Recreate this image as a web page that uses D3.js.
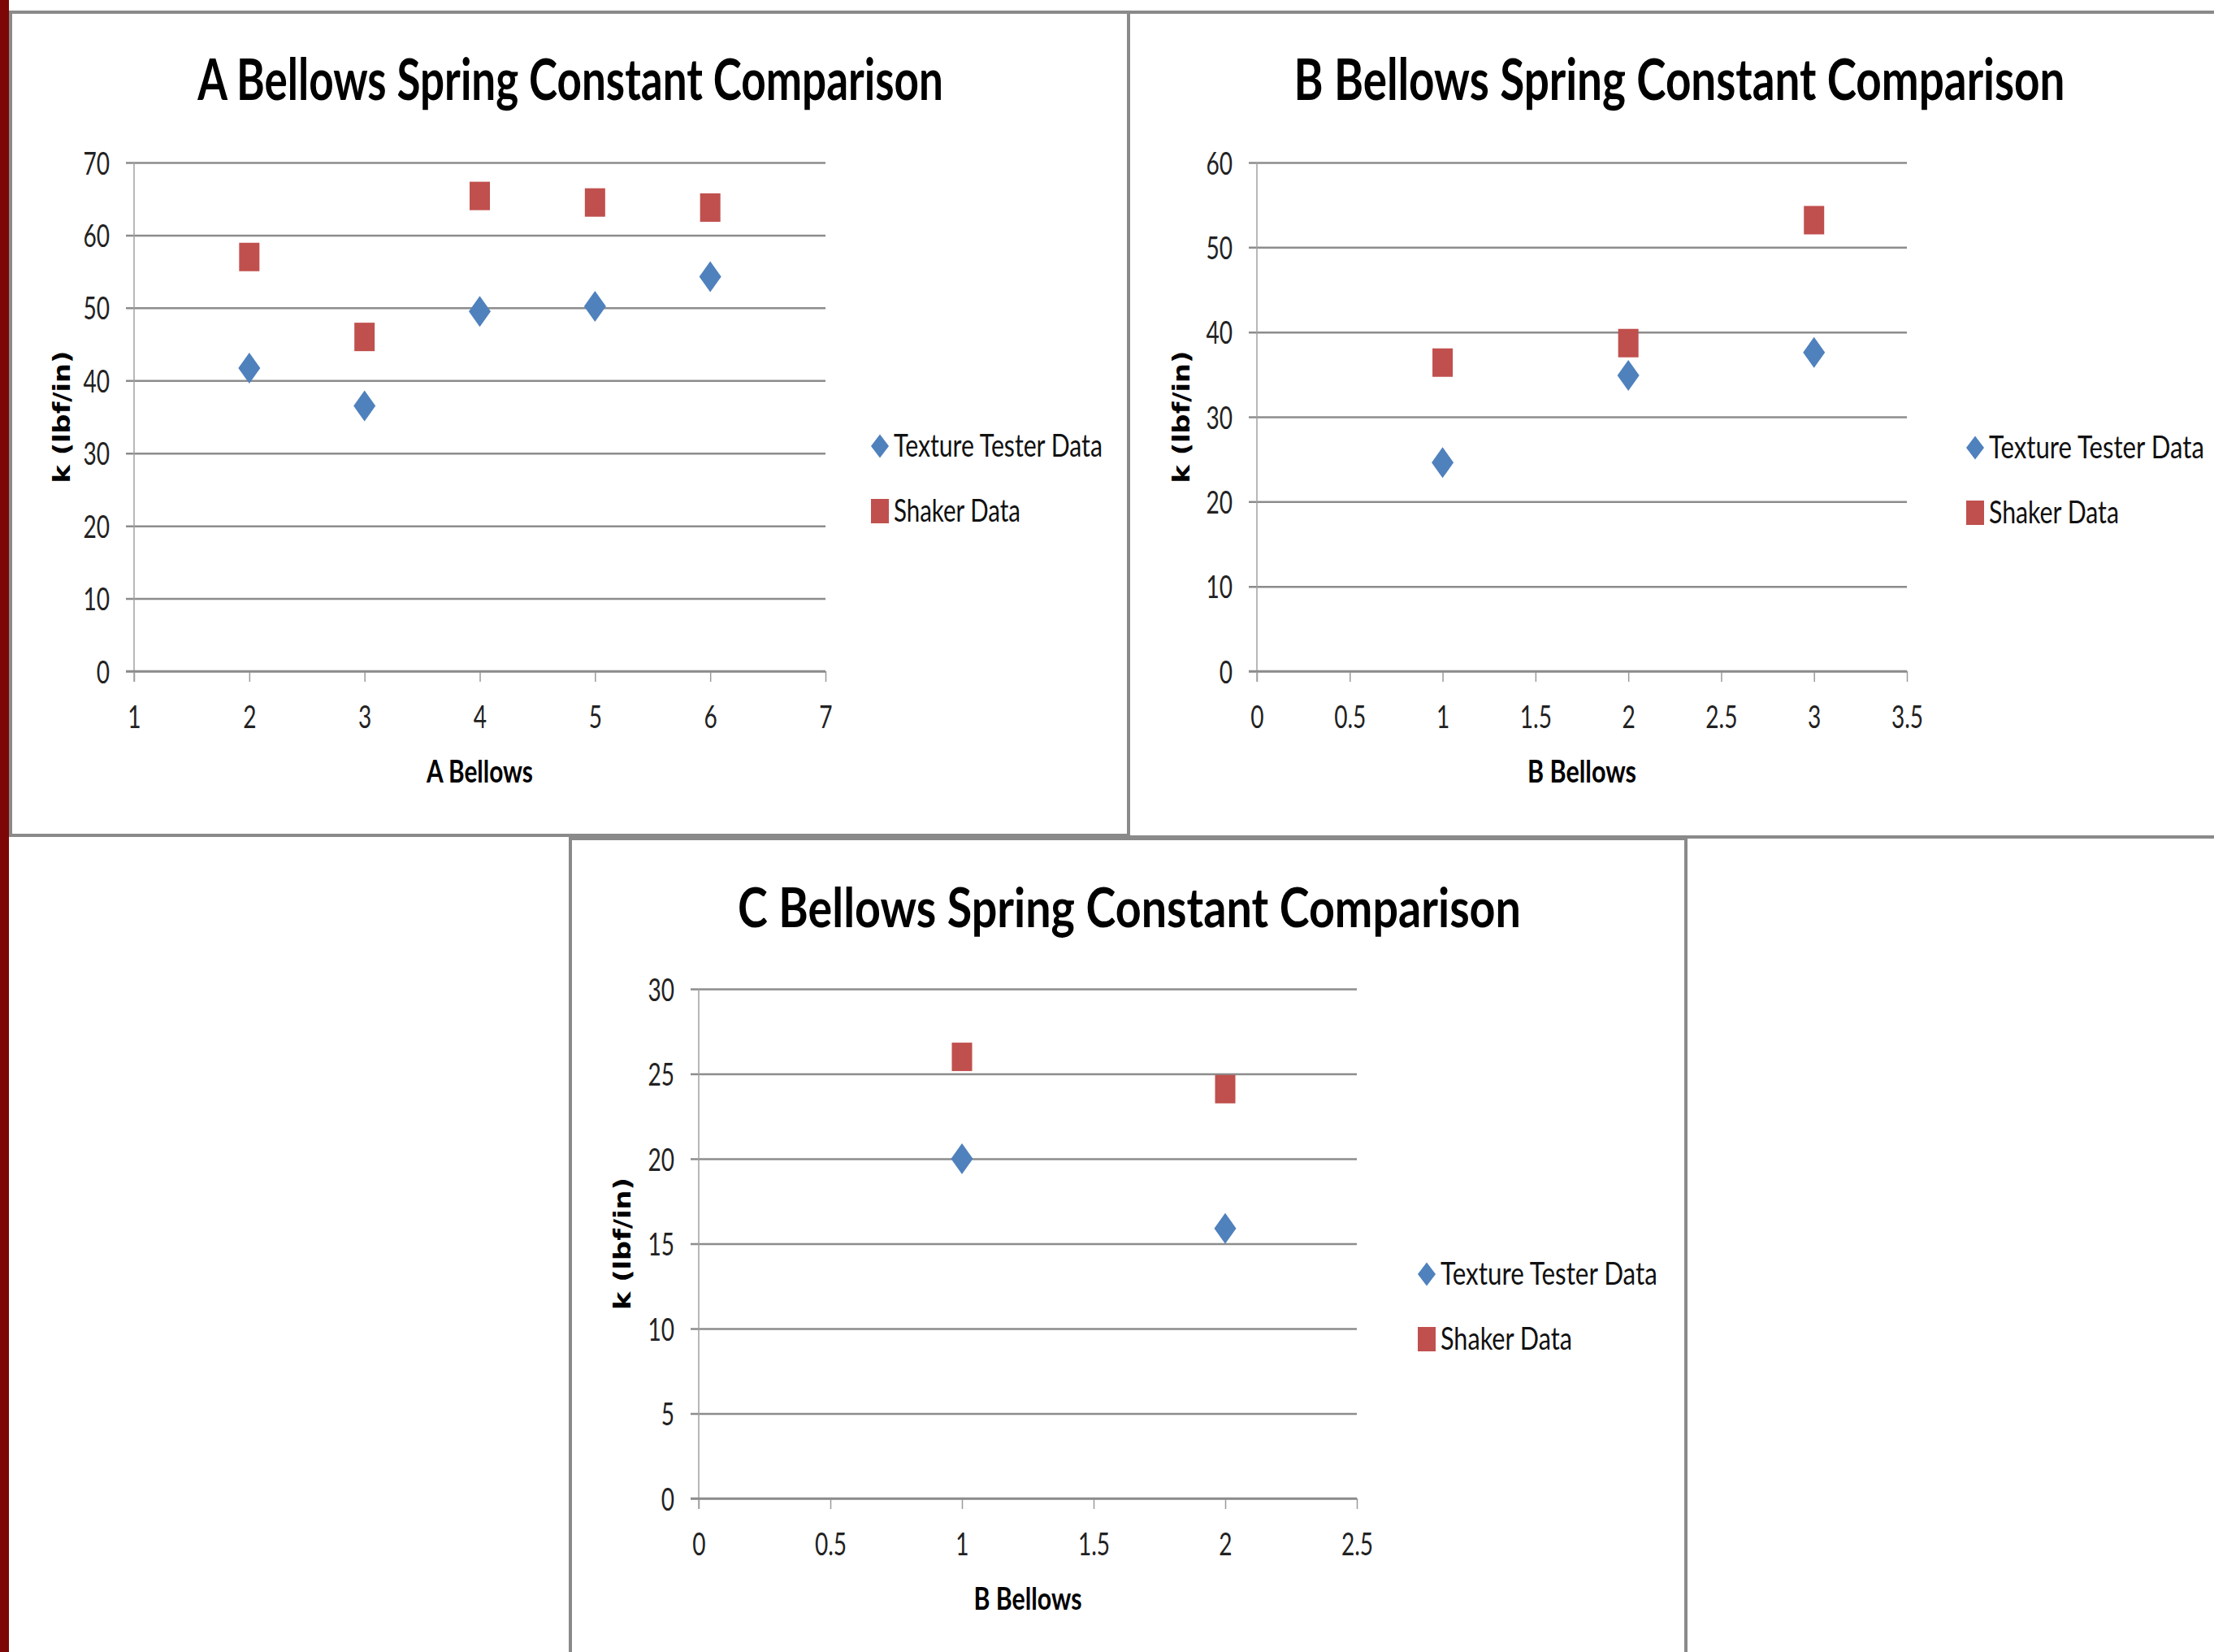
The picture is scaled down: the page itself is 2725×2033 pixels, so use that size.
<!DOCTYPE html>
<html><head><meta charset="utf-8">
<script src="https://cdn.jsdelivr.net/npm/d3@7"></script>
<style>html,body{margin:0;padding:0;background:#fff;overflow:hidden}</style>
</head><body>
<svg id="c" width="2725" height="2033"></svg>
<script>
// ---------- data ----------
const aBellows = [2, 3, 4, 5, 6];
const aTexture = [41.7, 36.5, 49.5, 50.2, 54.3];
const aShaker  = [57.0, 46.0, 65.4, 64.5, 63.8];
const aXTicks  = [1, 2, 3, 4, 5, 6, 7];
const aYTicks  = [0, 10, 20, 30, 40, 50, 60, 70];

const bBellows = [1, 2, 3];
const bTexture = [24.6, 34.9, 37.6];
const bShaker  = [36.4, 38.7, 53.2];
const bXTicks  = [0, 0.5, 1, 1.5, 2, 2.5, 3, 3.5];
const bYTicks  = [0, 10, 20, 30, 40, 50, 60];

const cBellows = [1, 2];
const cTexture = [20.0, 15.9];
const cShaker  = [26.0, 24.1];
const cXTicks  = [0, 0.5, 1, 1.5, 2, 2.5];
const cYTicks  = [0, 5, 10, 15, 20, 25, 30];

const seriesNames = ["Texture Tester Data", "Shaker Data"];
const titles  = ["A Bellows Spring Constant Comparison", "B Bellows Spring Constant Comparison", "C Bellows Spring Constant Comparison"];
const xTitles = ["A Bellows", "B Bellows", "B Bellows"];
const yTitle  = "k (lbf/in)";

// ---------- style ----------
const BLUE = "#4F81BD", RED = "#C0504D", GRID = "#8c8c8c", FRAME = "#8a8a8a";
const FONT = "Lato, 'Open Sans', sans-serif";
const SX = 0.72; // horizontal squeeze of the reference

const charts = [
  {title: titles[0], xTitle: xTitles[0], xs: aBellows, tex: aTexture, shk: aShaker, xt: aXTicks, yt: aYTicks,
   L: 165, R: 1016, T: 200, B: 826, titleX: 702, titleY: 123, titleW: 918, titleF: 70,
   legX: 1083, legY: 549, legW: [257, 156], ytX: 77, xtW: 131},
  {title: titles[1], xTitle: xTitles[1], xs: bBellows, tex: bTexture, shk: bShaker, xt: bXTicks, yt: bYTicks,
   L: 1547, R: 2347, T: 200, B: 826, titleX: 2067, titleY: 123, titleW: 949, titleF: 70,
   legX: 2431, legY: 551, legW: [265, 160], ytX: 1455, xtW: 134},
  {title: titles[2], xTitle: xTitles[2], xs: cBellows, tex: cTexture, shk: cShaker, xt: cXTicks, yt: cYTicks,
   L: 860, R: 1670, T: 1217, B: 1844, titleX: 1390, titleY: 1141, titleW: 964, titleF: 67,
   legX: 1756, legY: 1568, legW: [267, 162], ytX: 767, xtW: 133}
];

const svg = d3.select("#c");
svg.append("rect").attr("width", 2725).attr("height", 2033).attr("fill", "#fff");

// dark red slide edge
svg.append("rect").attr("x", 0).attr("y", 0).attr("width", 11).attr("height", 2033).attr("fill", "#7d0606");

// panels
const panels = [[13, 15, 1376, 1013], [1389, 15, 1400, 1015], [702, 1032, 1373, 1060]];
panels.forEach(p => svg.append("rect").attr("x", p[0]).attr("y", p[1]).attr("width", p[2]).attr("height", p[3])
  .attr("fill", "#fff").attr("stroke", FRAME).attr("stroke-width", 4));

function fit(sel, x, y, w, extra) {
  const len = sel.node().getComputedTextLength();
  const s = w / len;
  sel.attr("transform", `translate(${x},${y})${extra || ""} scale(${s},1)`);
}

function diamond(w, h) { return `M0,${-h}L${w},0L0,${h}L${-w},0Z`; }

charts.forEach(c => {
  const g = svg.append("g");
  const x = d3.scaleLinear().domain([c.xt[0], c.xt[c.xt.length - 1]]).range([c.L, c.R]);
  const y = d3.scaleLinear().domain([0, d3.max(c.yt)]).range([c.B, c.T]);

  // title
  const t = g.append("text").text(c.title).attr("font-family", FONT).attr("font-weight", 700)
    .attr("font-size", c.titleF).attr("text-anchor", "middle").attr("fill", "#000");
  fit(t, c.titleX, c.titleY, c.titleW);

  // y axis with gridlines
  const w = c.R - c.L;
  const gy = g.append("g").attr("transform", `translate(${c.R},0)`)
    .call(d3.axisLeft(y).tickValues(c.yt).tickSize(w + 10).tickPadding(20).tickFormat(d3.format("~g")));
  gy.select(".domain").remove();
  gy.selectAll(".tick line").attr("stroke", GRID).attr("stroke-width", 2.5);
  gy.selectAll(".tick text").each(function () {
    const s = d3.select(this);
    const xx = +s.attr("x");
    s.attr("x", 0).attr("dy", "0.36em").attr("transform", `translate(${xx},0) scale(${SX},1)`);
  }).attr("font-family", FONT).attr("font-size", 39).attr("fill", "#222");

  // x axis
  const gx = g.append("g").attr("transform", `translate(0,${c.B})`)
    .call(d3.axisBottom(x).tickValues(c.xt).tickSize(13).tickFormat(d3.format("~g")));
  gx.select(".domain").remove();
  gx.selectAll(".tick line").attr("stroke", "#9a9a9a").attr("stroke-width", 1.5);
  gx.selectAll(".tick text").attr("y", null).attr("dy", null)
    .attr("transform", `translate(0,70) scale(${SX},1)`)
    .attr("font-family", FONT).attr("font-size", 39).attr("fill", "#222");

  // vertical axis line
  g.append("line").attr("x1", c.L).attr("x2", c.L).attr("y1", c.T).attr("y2", c.B + 13)
    .attr("stroke", "#a0a0a0").attr("stroke-width", 1.5);
  // baseline over grid
  g.append("line").attr("x1", c.L - 10).attr("x2", c.R).attr("y1", y(0)).attr("y2", y(0))
    .attr("stroke", GRID).attr("stroke-width", 2.5);

  // axis titles
  const xtl = g.append("text").text(c.xTitle).attr("font-family", FONT).attr("font-weight", 700)
    .attr("font-size", 38).attr("text-anchor", "middle").attr("fill", "#000");
  fit(xtl, (c.L + c.R) / 2, c.B + 137, c.xtW);

  const ytl = g.append("text").text(yTitle).attr("font-family", "'DejaVu Sans', sans-serif").attr("font-weight", 700)
    .attr("font-size", 28).attr("text-anchor", "middle").attr("fill", "#000");
  fit(ytl, c.ytX + 9, (c.T + c.B) / 2, 163, " rotate(-90)");

  // shaker squares
  g.selectAll("rect.shk").data(c.xs.map((d, i) => [d, c.shk[i]])).join("rect").attr("class", "shk")
    .attr("x", d => x(d[0]) - 12.5).attr("y", d => y(d[1]) - 17.5)
    .attr("width", 25).attr("height", 35).attr("fill", RED);
  // texture diamonds
  g.selectAll("path.tex").data(c.xs.map((d, i) => [d, c.tex[i]])).join("path").attr("class", "tex")
    .attr("d", diamond(13.5, 19)).attr("transform", d => `translate(${x(d[0])},${y(d[1])})`).attr("fill", BLUE);

  // legend
  g.append("path").attr("d", diamond(11, 14.5)).attr("transform", `translate(${c.legX},${c.legY})`).attr("fill", BLUE);
  g.append("rect").attr("x", c.legX - 11).attr("y", c.legY + 80 - 15).attr("width", 22).attr("height", 30).attr("fill", RED);
  seriesNames.forEach((n, i) => {
    const lt = g.append("text").text(n).attr("font-family", FONT).attr("font-size", 39).attr("fill", "#111");
    fit(lt, c.legX + 17, c.legY + 13 + i * 80, c.legW[i]);
  });
});
</script>
</body></html>
